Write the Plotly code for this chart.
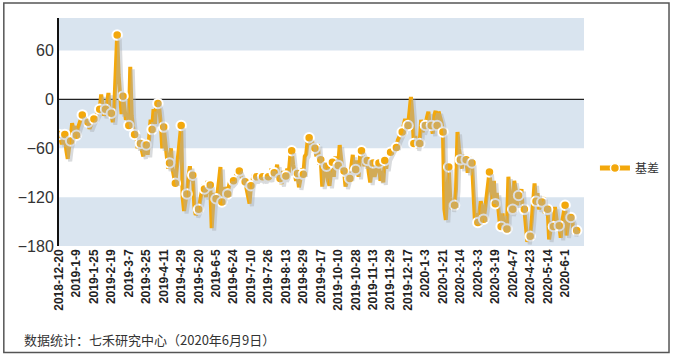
import plotly.graph_objects as go

# Basis (基差) series, one value per trading day from 2018-12-20 to 2020-06-09
basis = [
    -43, -48, -55, -45,
    -43, -62, -73, -58,
    -51, -29, -38, -33,
    -44, -35, -30, -25,
    -19, -25, -22, -32,
    -28, -36, -30, -27,
    -24, -22, -18, -14,
    -12, 6, -10, -20,
    -12, -5, 8, -22,
    -17, -28, -10, 30,
    79, 30, -5, -18,
    4, -10, -25, -20,
    -32, 40, -20, -35,
    -43, -40, -60, -48,
    -54, -62, -70, -50,
    -56, -68, -45, -25,
    -37, -12, -30, 0,
    -5, -12, -30, -60,
    -34, -55, -68, -85,
    -78, -60, -85, -95,
    -103, -85, -70, -50,
    -32, -120, -137, -125,
    -116, -95, -82, -100,
    -93, -130, -142, -138,
    -135, -125, -115, -105,
    -110, -120, -100, -115,
    -105, -158, -130, -115,
    -122, -115, -100, -83,
    -126, -118, -108, -112,
    -116, -105, -98, -102,
    -100, -95, -92, -90,
    -88, -92, -98, -104,
    -101, -110, -118, -128,
    -106, -98, -92, -100,
    -95, -98, -93, -97,
    -95, -100, -92, -96,
    -95, -98, -85, -92,
    -90, -90, -80, -100,
    -97, -104, -88, -98,
    -94, -85, -90, -70,
    -63, -80, -95, -100,
    -91, -108, -98, -85,
    -92, -70, -67, -50,
    -47, -55, -50, -65,
    -60, -70, -55, -80,
    -74, -107, -95, -85,
    -82, -100, -106, -90,
    -77, -95, -70, -80,
    -81, -56, -75, -90,
    -88, -107, -100, -85,
    -97, -80, -68, -90,
    -86, -75, -95, -70,
    -63, -68, -82, -72,
    -75, -90, -102, -85,
    -78, -95, -85, -80,
    -78, -100, -88, -102,
    -75, -85, -72, -68,
    -65, -62, -58, -55,
    -59, -50, -45, -42,
    -40, -30, -24, -28,
    -32, -15, 3, -20,
    -54, -45, -60, -50,
    -54, -25, -40, -35,
    -32, -22, -15, -35,
    -32, -42, -20, -14,
    -32, -15, -22, -28,
    -40, -135, -148, -105,
    -83, -120, -135, -125,
    -130, -110, -40, -60,
    -74, -85, -68, -80,
    -74, -90, -70, -85,
    -78, -110, -150, -140,
    -151, -140, -125, -135,
    -147, -135, -120, -100,
    -89, -110, -125, -100,
    -128, -115, -140, -150,
    -156, -140, -160, -150,
    -159, -95, -115, -140,
    -135, -100, -110, -130,
    -118, -125, -110, -140,
    -135, -160, -175, -165,
    -168, -150, -130, -103,
    -125, -115, -135, -130,
    -126, -120, -140, -130,
    -135, -172, -160, -150,
    -156, -132, -145, -160,
    -155, -170, -150, -140,
    -130, -167, -150, -140,
    -145, -150, -165, -160,
    -161,
]

# Category tick labels (every 12th trading day)
tick_labels = [
    "2018-12-20", "2019-1-9", "2019-1-25", "2019-2-19", "2019-3-7", "2019-3-25",
    "2019-4-11", "2019-4-29", "2019-5-20", "2019-6-5", "2019-6-24", "2019-7-10",
    "2019-7-26", "2019-8-13", "2019-8-29", "2019-9-17", "2019-10-10", "2019-10-28",
    "2019-11-13", "2019-11-29", "2019-12-17", "2020-1-3", "2020-1-21", "2020-2-14",
    "2020-3-3", "2020-3-19", "2020-4-7", "2020-4-23", "2020-5-14", "2020-6-1",
]
y_ticks = [-180, -120, -60, 0, 60]
series_name = "基差"
footer = "数据统计：七禾研究中心（2020年6月9日）"

TICK_STEP = 12
MARKER_STEP = 4
day_index = list(range(len(basis)))
tick_pos = [i * TICK_STEP for i in range(len(tick_labels))]

ORANGE = "#F3A80C"
BAND = "#D9E4EF"

# Geometry (pixels)
W, H = 677, 357
L, R, T, B = 59, 587, 18, 246
X_RANGE = [0, 361]
Y_RANGE = [-180, 100]
px_x = (R - L) / (X_RANGE[1] - X_RANGE[0])
px_y = (B - T) / (Y_RANGE[1] - Y_RANGE[0])
sh_dx = 2.5 / px_x
sh_dy = 2.5 / px_y

def px2paper_x(p):
    return (p - L) / (R - L)

def px2paper_y(p):
    return (B - p) / (B - T)

fig = go.Figure()

# shadow
fig.add_trace(go.Scatter(
    x=day_index, y=basis, mode="lines", xaxis="x2", yaxis="y2",
    line=dict(color="rgba(170,175,180,0.45)", width=4),
    showlegend=False, hoverinfo="skip",
))
# main line
fig.add_trace(go.Scatter(
    x=day_index, y=basis, mode="lines",
    line=dict(color=ORANGE, width=4),
    showlegend=False,
))
# markers every 4th point
fig.add_trace(go.Scatter(
    x=day_index[::MARKER_STEP], y=basis[::MARKER_STEP], mode="markers",
    marker=dict(color=ORANGE, size=9.5, line=dict(color="white", width=2)),
    showlegend=False,
))
# legend entry
fig.add_trace(go.Scatter(
    x=[None], y=[None], mode="lines+markers", name=series_name,
    line=dict(color=ORANGE, width=5),
    marker=dict(color=ORANGE, size=9, line=dict(color="white", width=1.5)),
))

shapes = []
# alternating bands
for y0, y1 in [(60, 100), (-60, 0), (-180, -120)]:
    shapes.append(dict(type="rect", xref="paper", yref="y", x0=0, x1=1, y0=y0, y1=y1,
                       fillcolor=BAND, line=dict(width=0), layer="below"))
# zero line
shapes.append(dict(type="line", xref="paper", yref="y", x0=0, x1=1, y0=0, y1=0,
                   line=dict(color="#222", width=1.2), layer="below"))
# outer border
shapes.append(dict(type="rect", xref="paper", yref="paper",
                   x0=px2paper_x(3.5), x1=px2paper_x(672.5),
                   y0=px2paper_y(352.5), y1=px2paper_y(3),
                   line=dict(color="#555", width=1.5), fillcolor="rgba(0,0,0,0)"))

fig.update_layout(
    width=W, height=H,
    margin=dict(l=L, r=W - R, t=T, b=H - B, pad=0),
    paper_bgcolor="white", plot_bgcolor="white",
    shapes=shapes,
    xaxis=dict(range=X_RANGE, tickmode="array", tickvals=tick_pos, ticktext=tick_labels,
               tickangle=-90, showgrid=False, zeroline=False, showline=False,
               automargin=False,
               ticks="", tickfont=dict(family="Liberation Sans, Arial", size=12, color="#222",
                                       weight="bold")),
    yaxis=dict(range=Y_RANGE, tickmode="array", tickvals=y_ticks, showgrid=False,
               zeroline=False, showline=True, linecolor="#111", linewidth=2,
               automargin=False,
               ticks="", tickfont=dict(family="Liberation Sans, Arial", size=16, color="#333")),
    xaxis2=dict(range=[X_RANGE[0] - sh_dx, X_RANGE[1] - sh_dx], overlaying="x",
                visible=False),
    yaxis2=dict(range=[Y_RANGE[0] + sh_dy, Y_RANGE[1] + sh_dy], overlaying="y",
                visible=False),
    legend=dict(x=px2paper_x(598), y=px2paper_y(168), xanchor="left", yanchor="middle",
                font=dict(family="Noto Sans CJK SC", size=12, color="#333"),
                bgcolor="rgba(0,0,0,0)", itemwidth=30),
    annotations=[dict(text=footer, xref="paper", yref="paper",
                      x=px2paper_x(22), y=px2paper_y(339), xanchor="left", yanchor="middle",
                      showarrow=False,
                      font=dict(family="Noto Sans CJK SC", size=13, color="#333"))],
)

fig.write_html("out.html", config={"displayModeBar": False},
               post_script="document.body.style.margin='0';document.body.style.overflow='hidden';")
